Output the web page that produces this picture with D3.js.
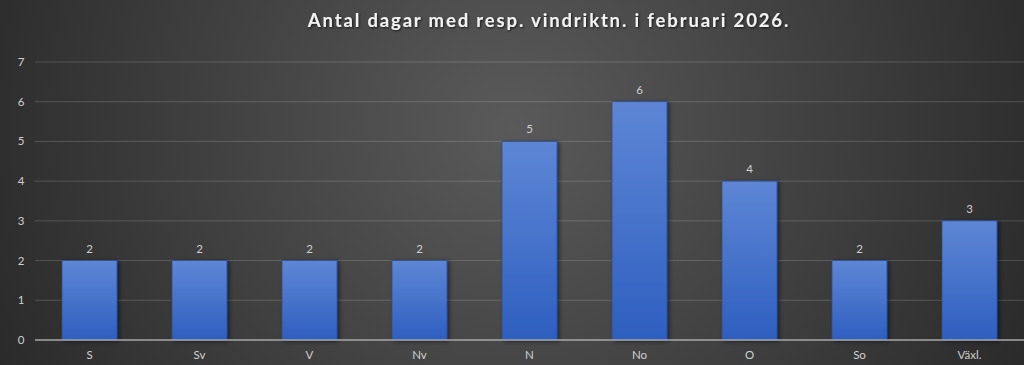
<!DOCTYPE html>
<html><head><meta charset="utf-8">
<script src="https://cdn.jsdelivr.net/npm/d3@7"></script>
<style>html,body{margin:0;padding:0;background:#303030;overflow:hidden}</style>
</head><body>
<svg id="c" width="1024" height="365"></svg>
<script>
const categories = ["S","Sv","V","Nv","N","No","O","So","Växl."];
const values = [2,2,2,2,5,6,4,2,3];
const yTicks = [0,1,2,3,4,5,6,7];
const title = "Antal dagar med resp. vindriktn. i februari 2026.";

const W=1024,H=365;
const svg=d3.select("#c");
const defs=svg.append("defs");
const rg=defs.append("radialGradient").attr("id","bg").attr("cx","50%").attr("cy","35%").attr("r","60%")
  .attr("gradientUnits","objectBoundingBox").attr("gradientTransform","translate(0.5,0.35) scale(1,2.8) translate(-0.5,-0.35)");
rg.append("stop").attr("offset","0%").attr("stop-color","#5a5a5a");
rg.append("stop").attr("offset","100%").attr("stop-color","#262626");
const bg=defs.append("linearGradient").attr("id","bar").attr("x1",0).attr("y1",0).attr("x2",0).attr("y2",1);
bg.append("stop").attr("offset","0%").attr("stop-color","#5e86d5");
bg.append("stop").attr("offset","100%").attr("stop-color","#2e5fc0");
const f=defs.append("filter").attr("id","sh").attr("x","-20%").attr("y","-20%").attr("width","150%").attr("height","150%");
f.append("feGaussianBlur").attr("in","SourceAlpha").attr("stdDeviation",2);
f.append("feOffset").attr("dx",2).attr("dy",1).attr("result","o");
f.append("feComponentTransfer").append("feFuncA").attr("type","linear").attr("slope",0.5);
const m=f.append("feMerge");m.append("feMergeNode");m.append("feMergeNode").attr("in","SourceGraphic");
const tf=defs.append("filter").attr("id","tsh");
tf.append("feDropShadow").attr("dx",1).attr("dy",1).attr("stdDeviation",1).attr("flood-color","#000").attr("flood-opacity",0.7);

svg.append("rect").attr("width",W).attr("height",H).attr("fill","url(#bg)");

const x=d3.scaleBand().domain(categories).range([34.5,1024.5]).paddingInner(0.5).paddingOuter(0.25);
const y=d3.scaleLinear().domain([0,7]).range([340,62]);

svg.append("g").selectAll("line").data(yTicks.filter(d=>d>0)).join("line")
  .attr("x1",35).attr("x2",1024).attr("y1",d=>y(d)).attr("y2",d=>y(d))
  .attr("stroke","#ffffff").attr("stroke-opacity",0.17).attr("stroke-width",1);

svg.append("g").selectAll("text").data(yTicks).join("text")
  .attr("x",21).attr("y",d=>y(d)+4).attr("text-anchor","middle")
  .attr("fill","#d0d0d0").attr("font-family","Lato, 'Open Sans', sans-serif").attr("font-size",11.5)
  .text(d=>d);

svg.append("g").selectAll("rect").data(values).join("rect")
  .attr("x",(d,i)=>x(categories[i])).attr("width",x.bandwidth())
  .attr("y",d=>y(d)).attr("height",d=>y(0)-y(d))
  .attr("fill","url(#bar)").attr("stroke","#2a4f9a").attr("stroke-width",0.8)
  .attr("filter","url(#sh)");

svg.append("line").attr("x1",35).attr("x2",1024).attr("y1",y(0)).attr("y2",y(0))
  .attr("stroke","#a8a8a8").attr("stroke-width",1.5);

svg.append("g").selectAll("text").data(values).join("text")
  .attr("x",(d,i)=>x(categories[i])+x.bandwidth()/2).attr("y",d=>y(d)-8)
  .attr("text-anchor","middle").attr("fill","#d0d0d0")
  .attr("font-family","Lato, 'Open Sans', sans-serif").attr("font-size",11.5).text(d=>d);

svg.append("g").selectAll("text").data(categories).join("text")
  .attr("x",d=>x(d)+x.bandwidth()/2).attr("y",359)
  .attr("text-anchor","middle").attr("fill","#d0d0d0")
  .attr("font-family","Lato, 'Open Sans', sans-serif").attr("font-size",11.5).text(d=>d);

svg.append("text").attr("x",549).attr("y",26.5).attr("text-anchor","middle")
  .attr("fill","#f2f2f2").attr("font-family","Lato, 'Open Sans', sans-serif").attr("font-weight","bold")
  .attr("font-size",18.5).attr("letter-spacing",1.85).attr("filter","url(#tsh)").text(title);
</script>
</body></html>
